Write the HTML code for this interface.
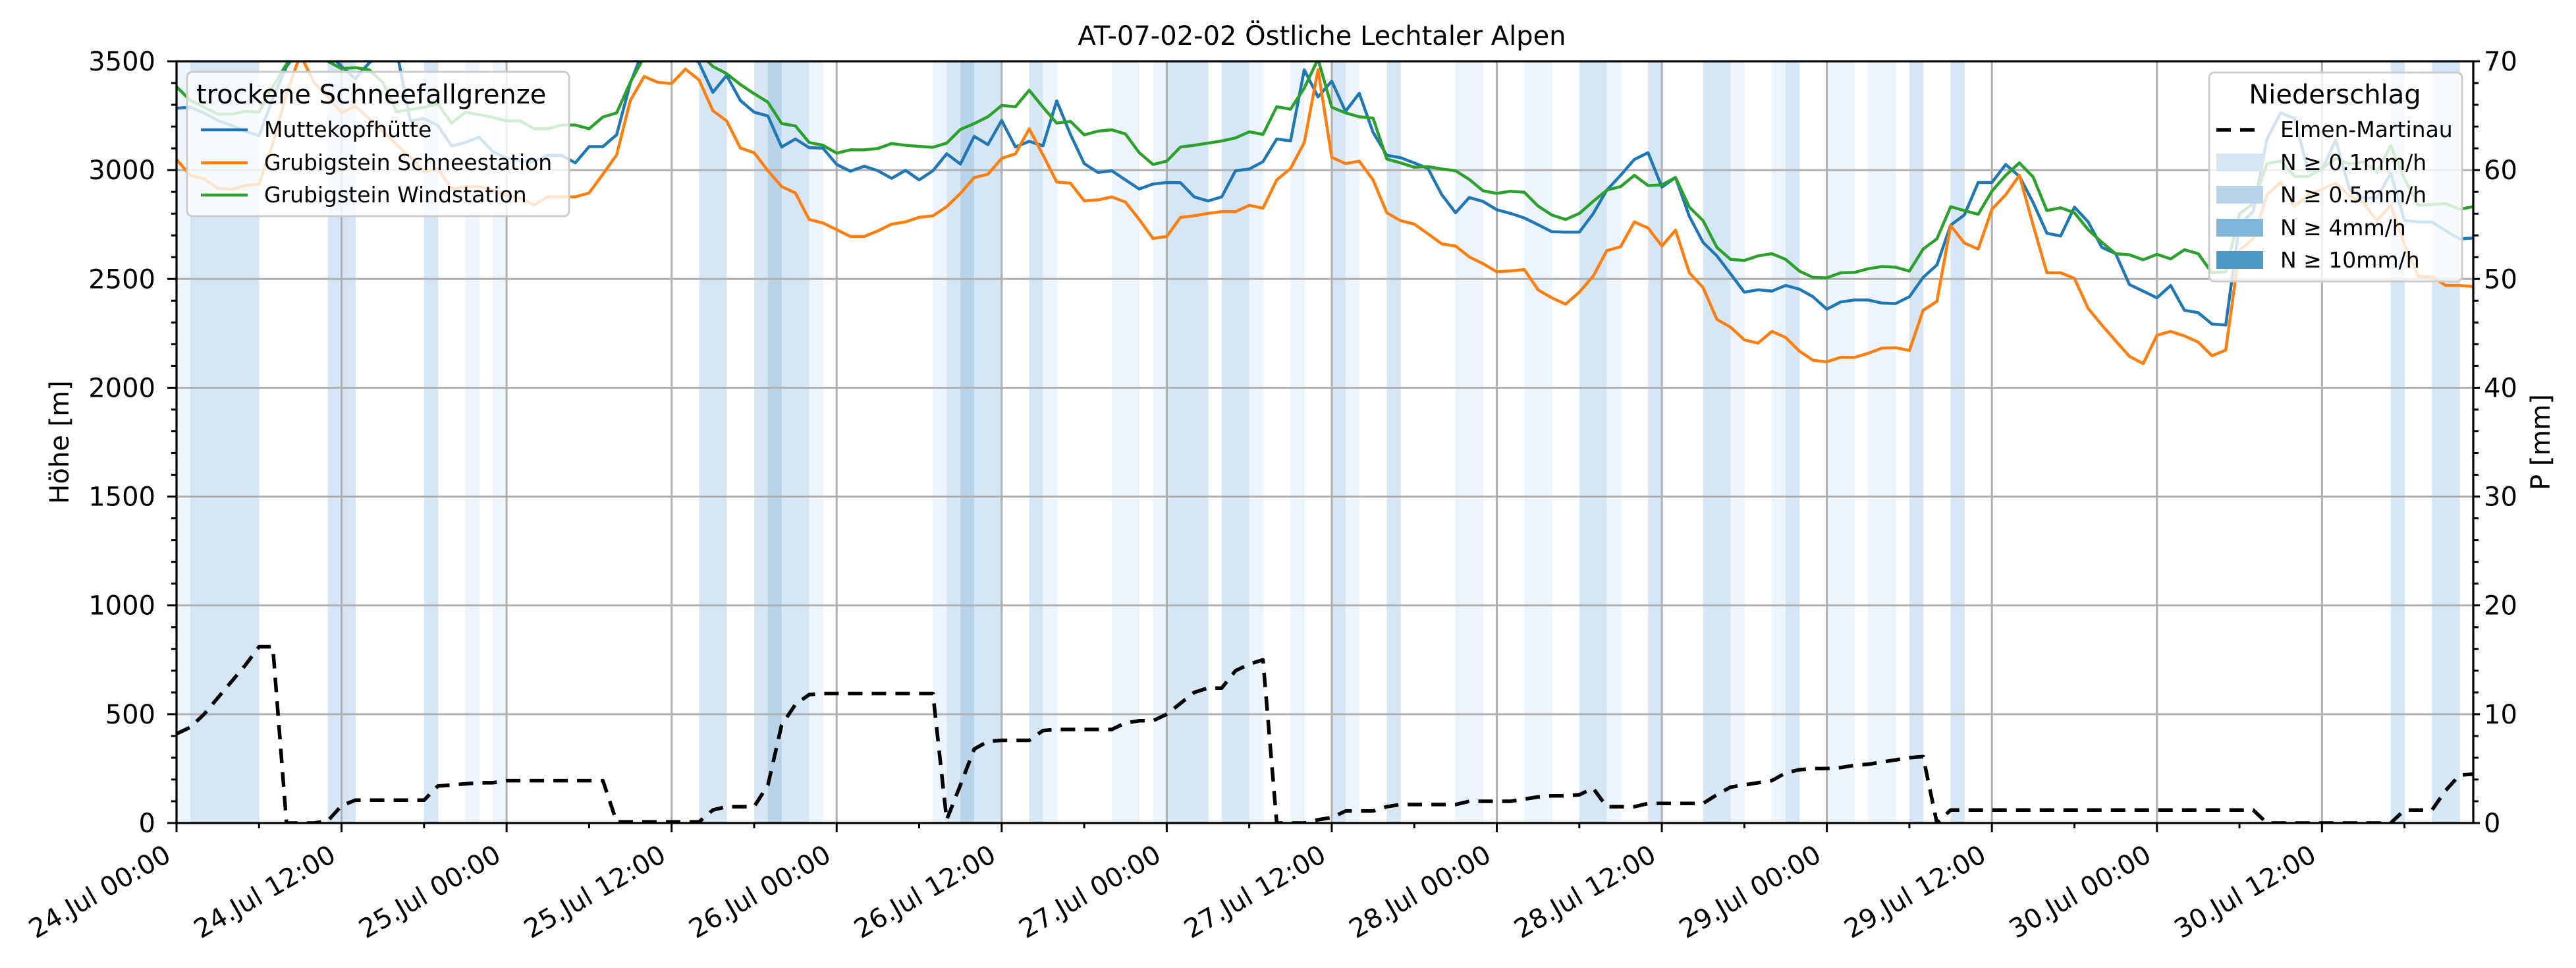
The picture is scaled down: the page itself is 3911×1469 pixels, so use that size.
<!DOCTYPE html>
<html><head><meta charset="utf-8"><style>
html,body{margin:0;padding:0;background:#fff;}
svg{display:block;font-family:"DejaVu Sans","Liberation Sans",sans-serif;}
</style></head><body>
<svg id="chart" xmlns="http://www.w3.org/2000/svg" width="3911" height="1469" viewBox="0 0 3911 1469">
<defs><clipPath id="plotclip"><rect x="268" y="93" width="3487" height="1156"/></clipPath></defs>
<rect x="0" y="0" width="3911" height="1469" fill="#fff"/>
<g id="bands" clip-path="url(#plotclip)"></g>
<g id="grid"></g>
<g id="series" clip-path="url(#plotclip)"></g>
<g id="axes"></g>
<text x="2007" y="68" font-size="40" text-anchor="middle">AT-07-02-02 Östliche Lechtaler Alpen</text>
<text x="0" y="0" font-size="40" text-anchor="middle" transform="translate(104,671) rotate(-90)">Höhe [m]</text>
<text x="0" y="0" font-size="40" text-anchor="middle" transform="translate(3871,671) rotate(-90)">P [mm]</text>
<g id="legend1">
  <rect x="284" y="109" width="580" height="219" rx="8" fill="#fff" fill-opacity="0.8" stroke="#cccccc" stroke-width="3"/>
  <text x="298" y="157" font-size="40">trockene Schneefallgrenze</text>
  <line x1="305" y1="197" x2="376" y2="197" stroke="#1f77b4" stroke-width="4.5"/>
  <text x="401" y="208" font-size="33">Muttekopfhütte</text>
  <line x1="305" y1="247" x2="376" y2="247" stroke="#ff7f0e" stroke-width="4.5"/>
  <text x="401" y="258" font-size="33">Grubigstein Schneestation</text>
  <line x1="305" y1="296" x2="376" y2="296" stroke="#2ca02c" stroke-width="4.5"/>
  <text x="401" y="307" font-size="33">Grubigstein Windstation</text>
</g>
<g id="legend2">
  <rect x="3354" y="110" width="384" height="317" rx="8" fill="#fff" fill-opacity="0.8" stroke="#cccccc" stroke-width="3"/>
  <text x="3545" y="157" font-size="40" text-anchor="middle">Niederschlag</text>
  <line x1="3365" y1="197" x2="3436" y2="197" stroke="#000" stroke-width="5.5" stroke-dasharray="22,14"/>
  <text x="3462" y="208" font-size="33">Elmen-Martinau</text>
  <rect x="3365" y="233" width="71" height="27" fill="#d6e6f4"/>
  <text x="3462" y="258" font-size="33">N ≥ 0.1mm/h</text>
  <rect x="3365" y="282" width="71" height="27" fill="#b7d4ea"/>
  <text x="3462" y="307" font-size="33">N ≥ 0.5mm/h</text>
  <rect x="3365" y="332" width="71" height="27" fill="#7fb6d9"/>
  <text x="3462" y="357" font-size="33">N ≥ 4mm/h</text>
  <rect x="3365" y="381" width="71" height="27" fill="#4b98c9"/>
  <text x="3462" y="406" font-size="33">N ≥ 10mm/h</text>
</g>
</svg>
<script>
const muttekopf = [3284,3289,3263,3228,3205,3179,3158,3330,3476,3560,3580,3540,3476,3420,3492,3540,3550,3226,3237,3205,3111,3127,3151,3085,3054,3044,3039,3068,3068,3033,3108,3108,3162,3400,3560,3580,3580,3560,3492,3357,3435,3320,3266,3249,3106,3143,3103,3101,3026,2995,3018,2997,2962,2999,2955,2997,3075,3028,3155,3117,3228,3106,3132,3112,3318,3164,3030,2989,2997,2955,2913,2936,2943,2942,2877,2858,2877,2997,3005,3039,3143,3134,3461,3336,3409,3270,3353,3174,3068,3057,3033,3007,2887,2804,2874,2856,2818,2801,2780,2749,2717,2715,2715,2799,2908,2976,3049,3080,2922,2966,2788,2668,2606,2523,2439,2450,2444,2470,2453,2418,2361,2394,2403,2403,2389,2387,2418,2507,2564,2747,2794,2943,2943,3026,2971,2851,2710,2697,2830,2762,2645,2616,2474,2444,2413,2470,2356,2345,2293,2288,2750,2810,3143,3263,3237,2997,3002,3138,2913,2872,2872,2986,2768,2762,2762,2721,2684,2688];
const schneestation = [3049,2976,2960,2916,2911,2929,2936,3122,3351,3530,3403,3336,3263,3294,3237,3179,3117,3059,2992,3007,2913,2924,2924,2908,2882,2872,2840,2877,2877,2877,2895,2981,3070,3320,3430,3403,3398,3464,3414,3273,3226,3101,3080,2997,2924,2895,2773,2757,2726,2695,2695,2721,2752,2762,2783,2790,2832,2893,2966,2981,3054,3075,3190,3070,2945,2940,2859,2863,2877,2853,2773,2686,2695,2783,2790,2801,2809,2809,2838,2825,2955,3007,3127,3461,3059,3030,3041,2955,2804,2768,2752,2707,2661,2651,2601,2570,2533,2537,2543,2450,2413,2384,2439,2512,2630,2648,2762,2734,2651,2724,2528,2460,2314,2278,2220,2205,2259,2231,2168,2126,2119,2140,2139,2158,2182,2184,2171,2356,2397,2745,2665,2637,2820,2887,2976,2747,2528,2528,2502,2364,2288,2215,2144,2111,2241,2259,2238,2210,2147,2173,2632,2684,2887,2945,2832,2887,2913,2940,2882,2851,2768,2838,2658,2512,2509,2470,2470,2465];
const windstation = [3383,3320,3289,3257,3257,3270,3266,3383,3487,3560,3560,3500,3466,3471,3461,3403,3268,3278,3289,3304,3216,3266,3255,3242,3226,3226,3190,3190,3207,3207,3190,3244,3263,3403,3520,3560,3560,3560,3540,3476,3443,3393,3351,3312,3214,3203,3127,3114,3078,3093,3093,3099,3122,3114,3109,3105,3124,3187,3214,3245,3297,3291,3367,3289,3216,3224,3162,3179,3185,3166,3080,3026,3041,3106,3114,3124,3134,3148,3176,3164,3291,3280,3377,3510,3289,3263,3245,3239,3051,3033,3013,3016,3005,2997,2957,2905,2893,2903,2898,2835,2794,2773,2801,2856,2908,2924,2976,2929,2932,2966,2830,2768,2645,2590,2585,2606,2616,2590,2536,2507,2505,2528,2530,2547,2557,2554,2536,2637,2684,2832,2814,2797,2903,2976,3033,2968,2814,2827,2804,2726,2668,2616,2611,2588,2613,2592,2634,2616,2528,2533,2799,2846,3030,3041,2971,2971,3007,3054,3028,3038,2992,3112,2960,2838,2842,2846,2820,2832];
const precipElmen = [8.2,8.8,10,11.5,13,14.5,16.2,16.2,0,0,0,0.2,1.6,2.1,2.1,2.1,2.1,2.1,2.1,3.4,3.5,3.6,3.7,3.7,3.9,3.9,3.9,3.9,3.9,3.9,3.9,3.9,0.1,0.1,0.1,0.1,0.1,0.1,0.1,1.2,1.5,1.5,1.5,3.5,9,10.9,11.8,11.9,11.9,11.9,11.9,11.9,11.9,11.9,11.9,11.9,0.3,3.5,6.8,7.5,7.6,7.6,7.6,8.5,8.6,8.6,8.6,8.6,8.6,9.2,9.4,9.4,10,11,12,12.4,12.4,14,14.6,15,0,0,0,0.3,0.5,1.1,1.1,1.1,1.5,1.7,1.7,1.7,1.7,1.7,2,2,2,2,2.2,2.4,2.5,2.5,2.6,3.2,1.5,1.5,1.5,1.8,1.8,1.8,1.8,1.8,2.6,3.3,3.5,3.7,3.9,4.6,4.9,5,5,5.1,5.3,5.4,5.6,5.8,6,6.1,0,1.2,1.2,1.2,1.2,1.2,1.2,1.2,1.2,1.2,1.2,1.2,1.2,1.2,1.2,1.2,1.2,1.2,1.2,1.2,1.2,1.2,1.2,1.2,0,0,0,0,0,0,0,0,0,0,1.2,1.2,1.2,3,4.4,4.5];
const rainHours  = [0,1,2,3,4,5,11,12,18,21,23,38,39,42,43,44,45,46,55,56,57,58,59,62,63,68,69,71,72,73,74,76,77,78,81,84,85,88,93,94,98,99,102,103,104,107,111,112,113,116,117,120,121,123,124,126,129,161,164,165];
const rainLevels = [1,2,2,2,2,2,2,2,2,1,1,2,2,2,3,2,2,1,1,2,3,2,2,2,1,1,1,1,2,2,2,2,2,1,1,2,1,2,1,1,1,1,2,2,1,2,2,2,1,1,2,1,1,1,1,2,2,2,2,2];
const xTickLabels = ["24.Jul 00:00","24.Jul 12:00","25.Jul 00:00","25.Jul 12:00","26.Jul 00:00","26.Jul 12:00","27.Jul 00:00","27.Jul 12:00","28.Jul 00:00","28.Jul 12:00","29.Jul 00:00","29.Jul 12:00","30.Jul 00:00","30.Jul 12:00"];
const yLeftTicks = [0,500,1000,1500,2000,2500,3000,3500];
const yRightTicks = [0,10,20,30,40,50,60,70];

const NS="http://www.w3.org/2000/svg";
const L=268,R=3755,T=93,B=1249,HMAX=167,YMAX=3500,PMAX=70;
const xS=h=>L+h*(R-L)/HMAX;
const yL=v=>B-v/YMAX*(B-T);
const yR=p=>B-p/PMAX*(B-T);
function mk(tag,attrs,parent){const e=document.createElementNS(NS,tag);for(const k in attrs)e.setAttribute(k,attrs[k]);parent.appendChild(e);return e;}
const levelColors=["none","#edf4fb","#d6e6f4","#b7d4ea","#7fb6d9","#4b98c9"];
const gB=document.getElementById('bands');
rainHours.forEach((h,i)=>{
  const r=mk('rect',{x:xS(h),y:T,width:xS(h+1)-xS(h)+0.5,height:B-T,fill:levelColors[rainLevels[i]]},gB);
  
  
});
const gG=document.getElementById('grid');
xTickLabels.forEach((lab,i)=>{mk('line',{x1:xS(i*12),y1:T,x2:xS(i*12),y2:B,stroke:"#b0b0b0","stroke-width":3},gG);});
yLeftTicks.forEach(v=>{mk('line',{x1:L,y1:yL(v),x2:R,y2:yL(v),stroke:"#b0b0b0","stroke-width":3},gG);});
const gS=document.getElementById('series');
function line(arr,yf,attrs,name){
  const pts=arr.map((v,i)=>xS(i).toFixed(1)+","+yf(v).toFixed(1)).join(" ");
  const p=mk('polyline',Object.assign({points:pts,fill:"none","stroke-linejoin":"round"},attrs),gS);
  
  
}
line(muttekopf,yL,{stroke:"#1f77b4","stroke-width":4.5},'muttekopfhuette-line');
line(schneestation,yL,{stroke:"#ff7f0e","stroke-width":4.5},'schneestation-line');
line(windstation,yL,{stroke:"#2ca02c","stroke-width":4.5},'windstation-line');
line(precipElmen,yR,{stroke:"#000","stroke-width":5.5,"stroke-dasharray":"22,14"},'elmen-martinau-precip-line');
const gA=document.getElementById('axes');
for(let h=0;h<=HMAX;h+=6){const major=h%12===0;mk('line',{x1:xS(h),y1:B,x2:xS(h),y2:B+(major?14:8),stroke:"#000","stroke-width":3},gA);}
xTickLabels.forEach((lab,i)=>{
  const x=xS(i*12)-6,y=1305;
  const t=mk('text',{x:x,y:y,"font-size":40,"text-anchor":"end",transform:`rotate(-30 ${x} ${y})`},gA);
  t.textContent=lab;
  
  
});
for(let v=0;v<=YMAX;v+=100){const major=v%500===0;mk('line',{x1:L,y1:yL(v),x2:L-(major?14:8),y2:yL(v),stroke:"#000","stroke-width":3},gA);}
yLeftTicks.forEach(v=>{
  const t=mk('text',{x:236,y:yL(v)+14,"font-size":40,"text-anchor":"end"},gA);
  t.textContent=String(v);
  
  
});
for(let p=0;p<=PMAX;p+=2){const major=p%10===0;mk('line',{x1:R,y1:yR(p),x2:R+(major?10:8),y2:yR(p),stroke:"#000","stroke-width":3},gA);}
yRightTicks.forEach(p=>{
  const t=mk('text',{x:3771,y:yR(p)+14,"font-size":40,"text-anchor":"start"},gA);
  t.textContent=String(p);
  
  
});
mk('rect',{x:L,y:T,width:R-L,height:B-T,fill:"none",stroke:"#000","stroke-width":3.2},gA);
</script>
</body></html>
